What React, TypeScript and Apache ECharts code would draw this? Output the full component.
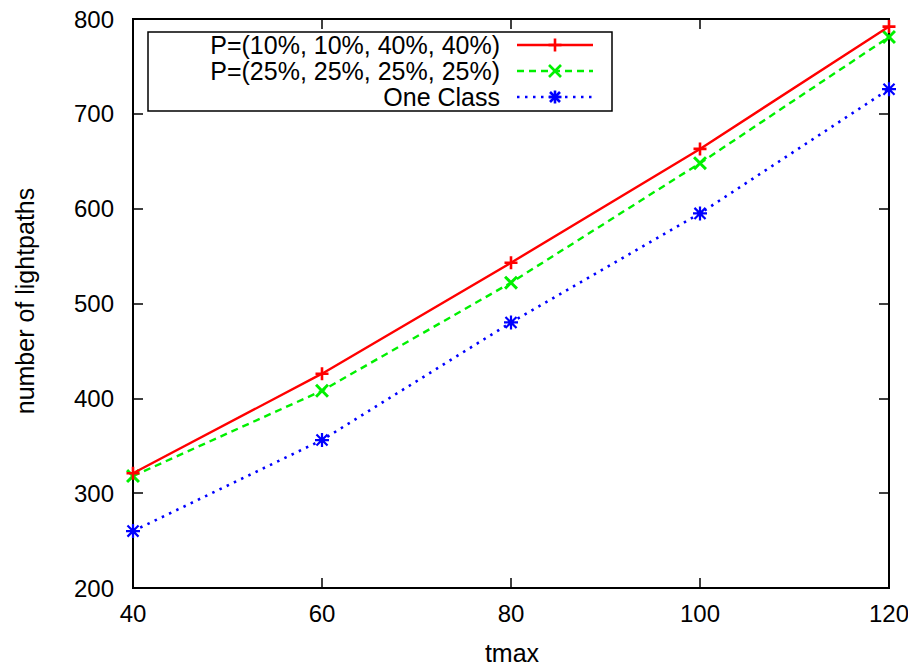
import React, { useEffect, useRef } from "react";
import * as echarts from "echarts";

const xValues = [40, 60, 80, 100, 120];
const seriesA = [321, 426, 543, 663, 792];
const seriesB = [318, 408, 522, 648, 781];
const seriesC = [260, 356, 480, 595, 726];
const seriesNames = [
  "P=(10%, 10%, 40%, 40%)",
  "P=(25%, 25%, 25%, 25%)",
  "One Class",
];
const xTitle = "tmax";
const yTitle = "number of lightpaths";

const FONT = "'Liberation Sans', Arial, sans-serif";
const PLUS = "path://M4,0H6V4H10V6H6V10H4V6H0V4H4Z";
const XMARK =
  "path://M0,1.5L1.5,0L5,3.5L8.5,0L10,1.5L6.5,5L10,8.5L8.5,10L5,6.5L1.5,10L0,8.5L3.5,5Z";
const STAR =
  "path://M4.2,0H5.8V4.2H10V5.8H5.8V10H4.2V5.8H0V4.2H4.2Z M0.5,1.6L1.6,0.5L5,3.9L8.4,0.5L9.5,1.6L6.1,5L9.5,8.4L8.4,9.5L5,6.1L1.6,9.5L0.5,8.4L3.9,5Z";

const COLORS = ["#ff0000", "#00f000", "#0000ff"];

function markerLines(kind: string, cx: number, cy: number, color: string) {
  const h = 6.5;
  const segs: number[][] = [];
  if (kind === "plus" || kind === "star") {
    segs.push([cx - h, cy, cx + h, cy], [cx, cy - h, cx, cy + h]);
  }
  if (kind === "x" || kind === "star") {
    const d = kind === "star" ? 5 : 6;
    segs.push([cx - d, cy - d, cx + d, cy + d], [cx - d, cy + d, cx + d, cy - d]);
  }
  return segs.map((s) => ({
    type: "line",
    shape: { x1: s[0], y1: s[1], x2: s[2], y2: s[3] },
    style: { stroke: color, lineWidth: 2.6 },
    z: 101,
  }));
}

export default function App() {
  const ref = useRef<HTMLDivElement>(null);
  useEffect(() => {
    if (!ref.current) return;
    const chart = echarts.init(ref.current, null, { renderer: "svg" });
    const dataA = xValues.map((x, i) => [x, seriesA[i]]);
    const dataB = xValues.map((x, i) => [x, seriesB[i]]);
    const dataC = xValues.map((x, i) => [x, seriesC[i]]);

    const axisCommon = {
      type: "value",
      axisLine: { show: false },
      splitLine: { show: false },
      axisTick: { show: true, inside: true, length: 10, lineStyle: { color: "#000", width: 1.5 } },
    };

    const legendRows = [
      { y: 45, dash: "solid", kind: "plus" },
      { y: 71, dash: [7, 5], kind: "x" },
      { y: 97, dash: [2.5, 5.5], kind: "star" },
    ];
    const legendGraphics: any[] = [
      {
        type: "rect",
        shape: { x: 148, y: 32, width: 464, height: 79 },
        style: { fill: "#fff", stroke: "#000", lineWidth: 1.5 },
        z: 99,
      },
    ];
    legendRows.forEach((r, i) => {
      legendGraphics.push({
        type: "text",
        x: 500,
        y: r.y,
        style: {
          text: seriesNames[i],
          font: `25px ${FONT}`,
          fill: "#000",
          align: "right",
          verticalAlign: "middle",
        },
        z: 100,
      });
      legendGraphics.push({
        type: "line",
        shape: { x1: 517, y1: r.y, x2: 593, y2: r.y },
        style: {
          stroke: COLORS[i],
          lineWidth: i === 2 ? 2.6 : 2.4,
          lineDash: r.dash === "solid" ? null : r.dash,
        },
        z: 100,
      });
      legendGraphics.push(...markerLines(r.kind, 555, r.y, COLORS[i]));
    });

    const option: any = {
      animation: false,
      backgroundColor: "#fff",
      grid: {
        left: 133,
        right: 27,
        top: 19,
        bottom: 83,
        show: true,
        borderColor: "#000",
        borderWidth: 2,
        backgroundColor: "transparent",
      },
      xAxis: [
        {
          ...axisCommon,
          position: "bottom",
          min: 40,
          max: 120,
          interval: 20,
          axisLabel: { fontSize: 24, fontFamily: FONT, color: "#000", margin: 13 },
        },
        {
          ...axisCommon,
          position: "top",
          min: 40,
          max: 120,
          interval: 20,
          axisLabel: { show: false },
        },
      ],
      yAxis: [
        {
          ...axisCommon,
          position: "left",
          min: 200,
          max: 800,
          interval: 100,
          axisLabel: { fontSize: 24, fontFamily: FONT, color: "#000", margin: 19 },
        },
        {
          ...axisCommon,
          position: "right",
          min: 200,
          max: 800,
          interval: 100,
          axisLabel: { show: false },
        },
      ],
      graphic: [
        {
          type: "text",
          x: 512,
          y: 653,
          style: {
            text: xTitle,
            font: `25px ${FONT}`,
            fill: "#000",
            align: "center",
            verticalAlign: "middle",
          },
        },
        {
          type: "text",
          x: 25,
          y: 301,
          rotation: Math.PI / 2,
          style: {
            text: yTitle,
            font: `25px ${FONT}`,
            fill: "#000",
            align: "center",
            verticalAlign: "middle",
          },
        },
        ...legendGraphics,
      ],
      series: [
        {
          name: seriesNames[0],
          type: "line",
          data: dataA,
          symbol: PLUS,
          symbolSize: 13,
          clip: false,
          lineStyle: { color: COLORS[0], width: 2.4, type: "solid" },
          itemStyle: { color: COLORS[0] },
          z: 5,
        },
        {
          name: seriesNames[1],
          type: "line",
          data: dataB,
          symbol: XMARK,
          symbolSize: 14,
          clip: false,
          lineStyle: { color: COLORS[1], width: 2.4, type: [7, 5] },
          itemStyle: { color: COLORS[1] },
          z: 4,
        },
        {
          name: seriesNames[2],
          type: "line",
          data: dataC,
          symbol: STAR,
          symbolSize: 14,
          clip: false,
          lineStyle: { color: COLORS[2], width: 2.6, type: [2.5, 5.5] },
          itemStyle: { color: COLORS[2] },
          z: 3,
        },
      ],
    };
    chart.setOption(option);
    return () => chart.dispose();
  }, []);
  return <div ref={ref} style={{ width: 916, height: 671, margin: -8 }} />;
}
